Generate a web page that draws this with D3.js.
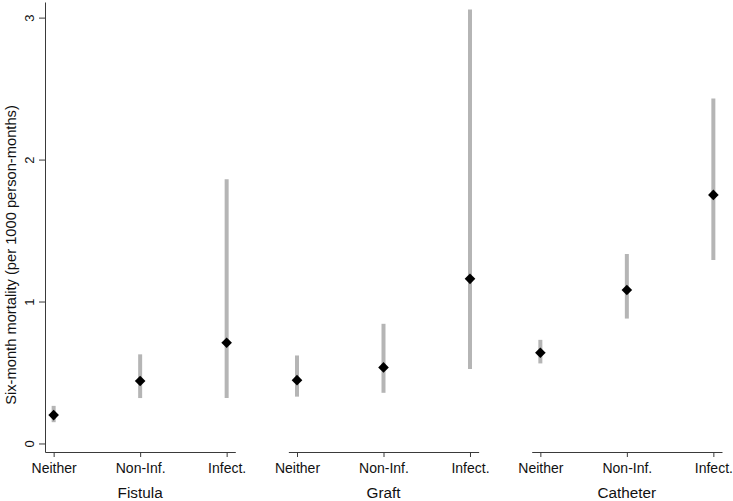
<!DOCTYPE html>
<html>
<head>
<meta charset="utf-8">
<script src="https://cdn.jsdelivr.net/npm/d3@7"></script>
<style>
  body { margin: 0; background: #fff; }
  svg { display: block; }
  svg text { font-family: "Liberation Sans", Arial, sans-serif; }
</style>
</head>
<body>
<div id="chart"></div>
<script>
// access types (panels) and infection categories
const groups = ["Fistula", "Graft", "Catheter"]
const categories = ["Neither", "Non-Inf.", "Infect."]

// point estimates and 95% CI per group, in category order
const estimate = {
    Fistula:  [0.20, 0.44, 0.71],
    Graft:    [0.446, 0.536, 1.16],
    Catheter: [0.639, 1.081, 1.751]
}
const lower = {
    Fistula:  [0.15, 0.32, 0.32],
    Graft:    [0.33, 0.357, 0.524],
    Catheter: [0.564, 0.88, 1.293]
}
const upper = {
    Fistula:  [0.265, 0.628, 1.862],
    Graft:    [0.62, 0.843, 3.057],
    Catheter: [0.73, 1.335, 2.43]
}
const yTicks = [0, 1, 2, 3]

const width = 733, height = 501
const svg = d3.select("#chart").append("svg")
    .attr("width", width)
    .attr("height", height)

const y = d3.scaleLinear()
    .domain([-0.06, 3.11])
    .range([452, 2])

const outer = d3.scaleBand()
    .domain(groups)
    .range([45, 722])
    .paddingInner(0.218)
    .paddingOuter(0)

const axisColor = "#3a3a3a"

// y axis
const yAxis = svg.append("g")
    .attr("transform", "translate(45,0)")
    .call(d3.axisLeft(y).tickValues(yTicks).tickFormat(d3.format("d")).tickSize(6).tickSizeOuter(0))
yAxis.select(".domain").attr("stroke", axisColor)
yAxis.selectAll(".tick line").attr("stroke", axisColor)
yAxis.selectAll(".tick text")
    .attr("x", 0)
    .attr("y", -11)
    .attr("dy", 0)
    .attr("text-anchor", "middle")
    .attr("transform", "rotate(-90)")
    .style("font-size", "13px")
    .attr("fill", "#111")

svg.append("text")
    .attr("transform", "translate(16,255) rotate(-90)")
    .attr("text-anchor", "middle")
    .style("font-size", "14.7px")
    .attr("fill", "#111")
    .text("Six-month mortality (per 1000 person-months)")

const diamond = d3.symbol().type(d3.symbolDiamond2).size(72)

groups.forEach(g => {
    const x0 = outer(g)
    const x = d3.scalePoint()
        .domain(categories)
        .range([x0, x0 + outer.bandwidth()])
        .padding(0.1)

    const xAxis = svg.append("g")
        .attr("transform", "translate(0,452)")
        .call(d3.axisBottom(x).tickSize(5).tickSizeOuter(0).tickPadding(6))
    xAxis.select(".domain").attr("stroke", axisColor)
    xAxis.selectAll(".tick line").attr("stroke", axisColor)
    xAxis.selectAll(".tick text")
        .style("font-size", "14px")
        .attr("fill", "#111")

    svg.append("text")
        .attr("x", x0 + outer.bandwidth() / 2)
        .attr("y", 498)
        .attr("text-anchor", "middle")
        .style("font-size", "15.3px")
        .attr("fill", "#111")
        .text(g)

    const rows = categories.map((c, i) => ({
        cat: c, est: estimate[g][i], lo: lower[g][i], hi: upper[g][i]
    }))

    // confidence intervals
    svg.append("g")
        .selectAll("line")
        .data(rows)
        .enter().append("line")
            .attr("x1", d => x(d.cat))
            .attr("x2", d => x(d.cat))
            .attr("y1", d => y(d.lo))
            .attr("y2", d => y(d.hi))
            .attr("stroke", "#b5b5b5")
            .attr("stroke-width", 4)

    // point estimates
    svg.append("g")
        .selectAll("path")
        .data(rows)
        .enter().append("path")
            .attr("transform", d => "translate(" + x(d.cat) + "," + y(d.est) + ")")
            .attr("d", diamond)
            .attr("fill", "#000")
})
</script>
</body>
</html>
